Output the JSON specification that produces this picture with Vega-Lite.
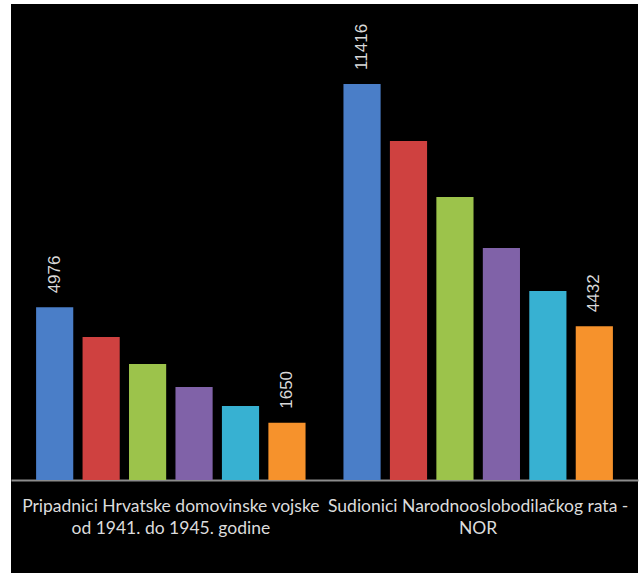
{
  "$schema": "https://vega.github.io/schema/vega-lite/v6.json",
  "width": 627,
  "height": 569,
  "autosize": {"type": "none"},
  "padding": {"left": 11, "top": 4, "right": 6, "bottom": 0},
  "background": "white",
  "config": {"view": {"fill": "black", "stroke": null}},
  "data": {
    "values": [
      {"group": "Pripadnici Hrvatske domovinske vojske|od 1941. do 1945. godine", "series": "A", "value": 4976},
      {"group": "Pripadnici Hrvatske domovinske vojske|od 1941. do 1945. godine", "series": "B", "value": 4121},
      {"group": "Pripadnici Hrvatske domovinske vojske|od 1941. do 1945. godine", "series": "C", "value": 3343},
      {"group": "Pripadnici Hrvatske domovinske vojske|od 1941. do 1945. godine", "series": "D", "value": 2680},
      {"group": "Pripadnici Hrvatske domovinske vojske|od 1941. do 1945. godine", "series": "E", "value": 2133},
      {"group": "Pripadnici Hrvatske domovinske vojske|od 1941. do 1945. godine", "series": "F", "value": 1650},
      {"group": "Sudionici Narodnooslobodilačkog rata -|NOR", "series": "A", "value": 11416},
      {"group": "Sudionici Narodnooslobodilačkog rata -|NOR", "series": "B", "value": 9769},
      {"group": "Sudionici Narodnooslobodilačkog rata -|NOR", "series": "C", "value": 8156},
      {"group": "Sudionici Narodnooslobodilačkog rata -|NOR", "series": "D", "value": 6686},
      {"group": "Sudionici Narodnooslobodilačkog rata -|NOR", "series": "E", "value": 5447},
      {"group": "Sudionici Narodnooslobodilačkog rata -|NOR", "series": "F", "value": 4432}
    ]
  },
  "encoding": {
    "x": {
      "field": "group",
      "type": "nominal",
      "sort": null,
      "title": null,
      "scale": {"paddingInner": 0, "paddingOuter": 0.02},
      "axis": {
        "orient": "bottom",
        "offset": -93,
        "ticks": false,
        "domainColor": "#8c8c8c",
        "domainWidth": 2,
        "labelAngle": 0,
        "labelColor": "#dcdcdc",
        "labelFont": "Lato",
        "labelFontSize": 17.5,
        "labelPadding": 17,
        "labelLineHeight": 22,
        "labelLimit": 0,
        "labelExpr": "split(datum.label, '|')"
      }
    },
    "xOffset": {
      "field": "series",
      "type": "nominal",
      "scale": {"paddingInner": 0.2, "paddingOuter": 0.408}
    },
    "y": {
      "field": "value",
      "type": "quantitative",
      "scale": {"domain": [-2680, 13718], "nice": false},
      "axis": null
    }
  },
  "layer": [
    {
      "mark": {"type": "bar"},
      "encoding": {
        "color": {
          "field": "series",
          "type": "nominal",
          "scale": {"domain": ["A", "B", "C", "D", "E", "F"], "range": ["#4a7ec8", "#cf4140", "#9cc34b", "#8062a8", "#37b1d2", "#f6922c"]},
          "legend": null
        }
      }
    },
    {
      "transform": [{"filter": "datum.series == 'A' || datum.series == 'F'"}],
      "mark": {"type": "text", "angle": 270, "align": "left", "baseline": "middle", "dx": 14, "color": "#d9d9d9", "font": "Liberation Sans", "fontSize": 17},
      "encoding": {"text": {"field": "value", "type": "quantitative", "format": "d"}}
    }
  ]
}
